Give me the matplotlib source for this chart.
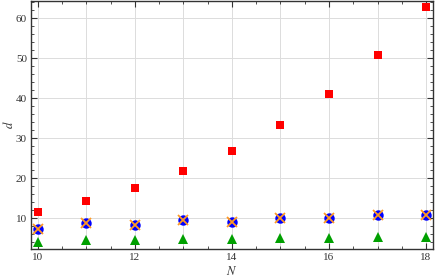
import matplotlib.pyplot as plt
import numpy as np
from matplotlib.ticker import MultipleLocator

# data
N = [10, 11, 12, 13, 14, 15, 16, 17, 18]
red_sq = [11.5, 14.2, 17.6, 21.7, 26.8, 33.2, 40.9, 50.7, 62.7]
blue_x = [7.3, 8.7, 8.25, 9.4, 9.1, 10.1, 10.0, 10.8, 10.75]
green_tri = [3.9, 4.4, 4.4, 4.7, 4.7, 5.0, 4.9, 5.3, 5.25]

plt.rcParams['font.family'] = ['Liberation Serif', 'DejaVu Serif']
plt.rcParams['mathtext.fontset'] = 'stix'

fig = plt.figure(figsize=(4.36, 2.8), dpi=100)
ax = fig.add_axes([0.0711, 0.1107, 0.9220, 0.8857])

ax.plot(N, red_sq, 's', color='#ff0000', ms=6.2, mew=0, zorder=3)
ax.plot(N, blue_x, 'o', color='#0000ff', ms=7.5, mew=0, zorder=3)
ax.plot(N, blue_x, 'x', color='#ff9922', ms=6.5, mew=1.3, zorder=4)
ax.plot(N, green_tri, '^', color='#00a000', ms=7.5, mew=0, zorder=3)

ax.set_xlim(9.856, 18.144)
ax.set_ylim(2.25, 64.25)
ax.xaxis.set_major_locator(MultipleLocator(2))
ax.xaxis.set_minor_locator(MultipleLocator(0.5))
ax.yaxis.set_major_locator(MultipleLocator(10))
ax.yaxis.set_minor_locator(MultipleLocator(2))
ax.tick_params(which='both', direction='in', top=True, right=True,
               color='#333333', labelsize=8, labelcolor='#333333', pad=3)
ax.tick_params(which='major', length=4, width=0.8)
ax.tick_params(which='minor', length=2, width=0.6)

# grid at every integer N and every 10 in y
for n in N:
    ax.axvline(n, color='#dcdcdc', lw=0.7, zorder=1)
for v in range(10, 61, 10):
    ax.axhline(v, color='#dcdcdc', lw=0.7, zorder=1)

for s in ax.spines.values():
    s.set_color('#333333')
    s.set_linewidth(1.0)

ax.set_xlabel('$N$', fontsize=9, color='#333333', labelpad=2)
fig.text(9 / 436, 1 - 125 / 280, r'$\bar{d}$', fontsize=9, color='#333333',
         rotation=90, ha='center', va='center')

plt.savefig('out.png', dpi=100)
